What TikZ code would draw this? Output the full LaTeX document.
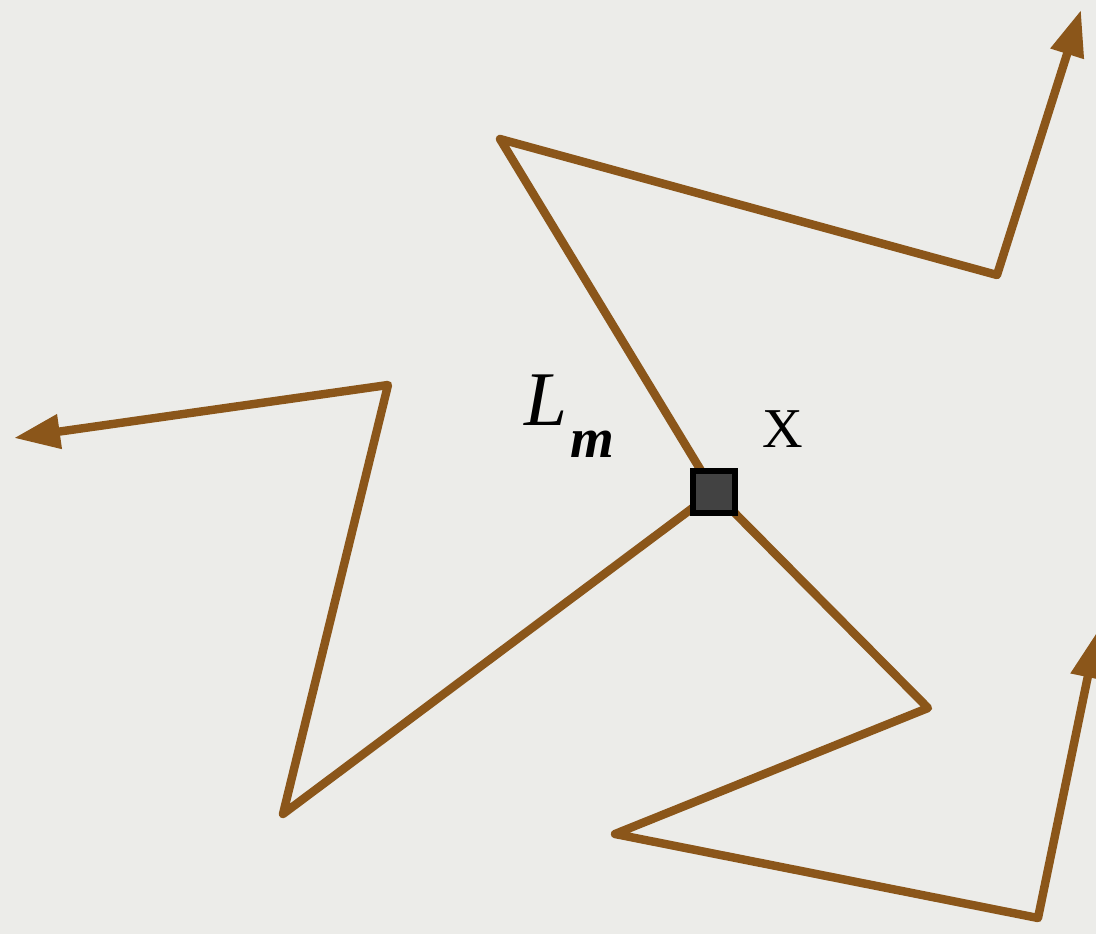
\documentclass[tikz,border=0pt]{standalone}
\usepackage{fontspec}
\setmainfont{Liberation Serif}
\usetikzlibrary{arrows.meta,positioning,calc}
\definecolor{bgpaper}{RGB}{236,236,233}
\definecolor{walkbrown}{RGB}{139,86,26}
\definecolor{sitegray}{RGB}{66,66,66}

\begin{document}
\begin{tikzpicture}[
		>={Triangle[length=4.6mm,width=3.3mm]},
		walk/.style={draw=walkbrown, line width=2.4pt, line join=round, line cap=round},
		site/.style={rectangle, draw=black, fill=sitegray, line width=0.6mm, minimum size=4.2mm, inner sep=0pt},
		lbl/.style={inner sep=0pt}
		]
		
		% --------------------------------------------------
		% Canvas
		% --------------------------------------------------
		\fill[bgpaper] (0,0) rectangle (10.96,9.34);
		\useasboundingbox (0,0) rectangle (10.96,9.34);
		\clip (0,0) rectangle (10.96,9.34);
		
		% --------------------------------------------------
		% Corners of the three walks
		% --------------------------------------------------
		\coordinate (X0) at (7.14,4.42);
		
		\coordinate (A1) at (5.00,7.95);
		\coordinate (A2) at (9.97,6.59);
		\coordinate (A3) at (10.81,9.24);
		
		\coordinate (B1) at (2.83,1.20);
		\coordinate (B2) at (3.88,5.49);
		\coordinate (B3) at (0.14,4.96);
		
		\coordinate (C1) at (9.28,2.26);
		\coordinate (C2) at (6.15,1.00);
		\coordinate (C3) at (10.38,0.16);
		\coordinate (C4) at (10.97,3.02);
		
		% walks
		\draw[walk,->] (X0) -- (A1) -- (A2) -- (A3);
		\draw[walk,->] (X0) -- (B1) -- (B2) -- (B3);
		\draw[walk,->] (X0) -- (C1) -- (C2) -- (C3) -- (C4);
		
		% site
		\node[site] (x) at (X0) {};
		
		% --------------------------------------------------
		% Labels
		% --------------------------------------------------
		\node[lbl, font=\fontsize{16}{18}\selectfont] (xlab) at (7.83,5.05) {X};
		\node[lbl, anchor=base west] (lm) at (5.24,5.09)
		{\fontsize{22}{24}\selectfont\itshape L\kern0.03cm\raisebox{-0.32cm}{\fontsize{16}{18}\selectfont\bfseries m}};
		
	\end{tikzpicture}
\end{document}
